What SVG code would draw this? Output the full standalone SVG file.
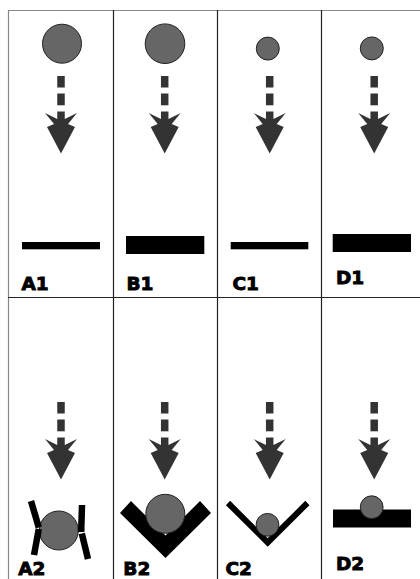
<svg xmlns="http://www.w3.org/2000/svg" xmlns:xlink="http://www.w3.org/1999/xlink" width="420" height="579" viewBox="0 0 420 579">
<style>
.ball{fill:#666;stroke:#222;stroke-width:1}
.bar{fill:#000}
.lbl{font-family:"DejaVu Sans","Liberation Sans",sans-serif;font-weight:bold;font-size:18.5px;fill:#000;stroke:#000;stroke-width:0.9}
.grid{stroke:#222;stroke-width:1.2;fill:none}
.gridl{stroke:#888;stroke-width:1.2;fill:none}
.arr{fill:#333}
</style>
<defs>
<g id="arrow" class="arr">
<rect x="-3.75" y="0" width="7.5" height="11.5"/>
<rect x="-3.75" y="17.5" width="7.5" height="11.8"/>
<polygon points="-3.75,35.5 3.75,35.5 3.75,43 16,37 7,48 14,51 0,77.5 -14,51 -7,48 -16,37 -3.75,43"/>
</g>
</defs>
<g id="grid">
<line class="gridl" x1="8" y1="10.5" x2="420" y2="10.5"/>
<line class="gridl" x1="8.5" y1="10" x2="8.5" y2="579"/>
<line class="grid" x1="113.5" y1="10" x2="113.5" y2="579"/>
<line class="grid" x1="217.5" y1="10" x2="217.5" y2="579"/>
<line class="grid" x1="321.5" y1="10" x2="321.5" y2="579"/>
<line class="grid" x1="8" y1="297.5" x2="420" y2="297.5"/>
</g>
<g id="connectors">
<use xlink:href="#arrow" transform="translate(61,76)"/>
<use xlink:href="#arrow" transform="translate(164.7,76)"/>
<use xlink:href="#arrow" transform="translate(269.7,76)"/>
<use xlink:href="#arrow" transform="translate(374.2,76)"/>
<use xlink:href="#arrow" transform="translate(61,402)"/>
<use xlink:href="#arrow" transform="translate(164.7,402)"/>
<use xlink:href="#arrow" transform="translate(269.7,402)"/>
<use xlink:href="#arrow" transform="translate(374.2,402)"/>
</g>
<g id="A1">
<circle class="ball" cx="62" cy="43.7" r="19.5"/>
<rect class="bar" x="22" y="242" width="78" height="7.3"/>
<text class="lbl" x="21.5" y="290">A1</text>
</g>
<g id="B1">
<circle class="ball" cx="165" cy="43.7" r="19.8"/>
<rect class="bar" x="126" y="236" width="78.3" height="18"/>
<text class="lbl" x="126.5" y="290">B1</text>
</g>
<g id="C1">
<circle class="ball" cx="267.8" cy="48.6" r="11.5"/>
<rect class="bar" x="230.7" y="242" width="77.6" height="7.3"/>
<text class="lbl" x="232.5" y="290">C1</text>
</g>
<g id="D1">
<circle class="ball" cx="371.8" cy="48.4" r="11.5"/>
<rect class="bar" x="332.7" y="234" width="78.3" height="18"/>
<text class="lbl" x="336" y="284">D1</text>
</g>
<g id="A2">
<circle class="ball" cx="58.8" cy="530.5" r="19.5"/>
<g stroke="#000" stroke-width="6.5" fill="none">
<line x1="31" y1="501" x2="38.8" y2="527.5"/>
<line x1="38.8" y1="529" x2="34" y2="555"/>
<line x1="82" y1="505" x2="81.2" y2="532"/>
<line x1="81.8" y1="533.5" x2="88" y2="559"/>
</g>
<text class="lbl" x="18.3" y="574.5">A2</text>
</g>
<g id="B2">
<polygon class="bar" points="120,513 131,501 165.5,535.5 200,501 211,513 165.5,558"/>
<circle class="ball" cx="165.3" cy="513.8" r="19.5"/>
<text class="lbl" x="123.3" y="574.5">B2</text>
</g>
<g id="C2">
<polyline points="228,503 267.7,542.5 307.4,503" fill="none" stroke="#000" stroke-width="6"/>
<circle class="ball" cx="267.5" cy="524.8" r="11.4"/>
<text class="lbl" x="225.5" y="574.5">C2</text>
</g>
<g id="D2">
<rect class="bar" x="333" y="509.5" width="78" height="18"/>
<circle class="ball" cx="371.7" cy="507.2" r="11.4"/>
<text class="lbl" x="336" y="570">D2</text>
</g>
</svg>
